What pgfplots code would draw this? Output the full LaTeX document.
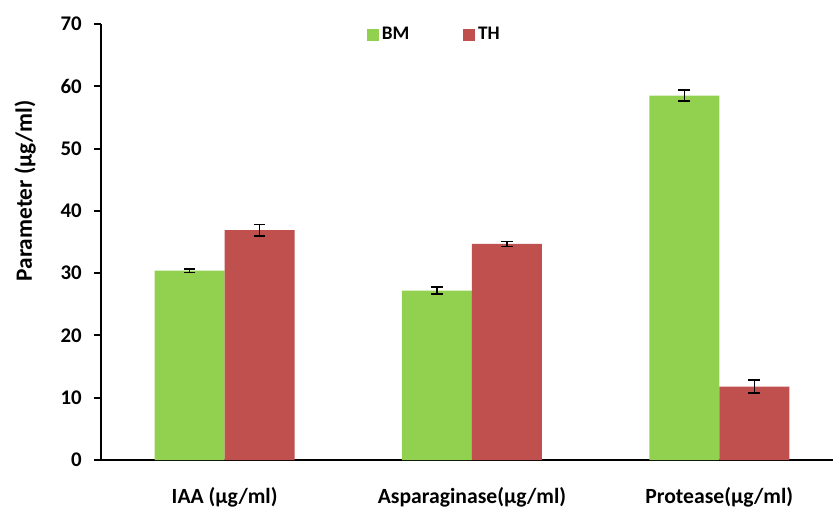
\documentclass[border=0pt]{standalone}
\usepackage{fontspec}
\setmainfont{Carlito}
\usepackage{pgfplots}
\pgfplotsset{compat=1.18}
\definecolor{bmgreen}{HTML}{92D050}
\definecolor{thred}{HTML}{C0504D}
\begin{document}
\begin{tikzpicture}
\useasboundingbox (0,0) rectangle (499.8pt,306pt);
\begin{axis}[
  at={(60.6pt,30pt)}, anchor=south west,
  scale only axis, width=439.2pt, height=261.6pt,
  ybar=0pt, bar width=42pt,
  xmin=-0.5, xmax=2.46, ymin=0, ymax=70,
  axis x line*=bottom, axis y line*=left,
  axis line style={line width=1.2pt,-},
  xtick={0,1,2},
  xticklabels={IAA (µg/ml),Asparaginase(µg/ml),Protease(µg/ml)},
  x tick style={draw=none},
  extra x ticks={-0.5,0.5,1.5},
  extra x tick labels={},
  extra x tick style={tick style={draw=black,line width=1.2pt}, major tick length=4pt, tick align=outside},
  ytick={0,10,...,70},
  y tick style={line width=1.2pt, black},
  tick align=outside, major tick length=4pt,
  xticklabel style={font=\bfseries\fontsize{13}{15}\selectfont, yshift=-9pt},
  yticklabel style={font=\bfseries\fontsize{12.5}{14}\selectfont, xshift=-4pt},
  /pgf/number format/assume math mode=true,
  ylabel={Parameter (µg/ml)},
  ylabel style={font=\bfseries\fontsize{14}{16}\selectfont, at={(ticklabel cs:0.617)}, yshift=8pt},
  legend style={draw=none, fill=none, at={(0.456,0.975)}, anchor=center,
    legend columns=2, font=\bfseries\fontsize{11.5}{13}\selectfont,
    /tikz/every even column/.append style={column sep=30pt}},
  legend image code/.code={\fill[#1] (0pt,-3.6pt) rectangle (7.2pt,3.6pt);},
  error bars/y dir=both, error bars/y explicit,
  error bars/error bar style={black, line width=0.9pt},
  error bars/error mark options={black, line width=1pt, mark size=3.5pt, rotate=90},
]
\addplot[fill=bmgreen, draw=none] coordinates {
  (0,30.4) +- (0,0.3)
  (1,27.2) +- (0,0.6)
  (2,58.5) +- (0,0.9)
};
\addplot[fill=thred, draw=none] coordinates {
  (0,36.9) +- (0,0.9)
  (1,34.7) +- (0,0.4)
  (2,11.8) +- (0,1.0)
};
\legend{BM,TH}
\end{axis}
\end{tikzpicture}
\end{document}
